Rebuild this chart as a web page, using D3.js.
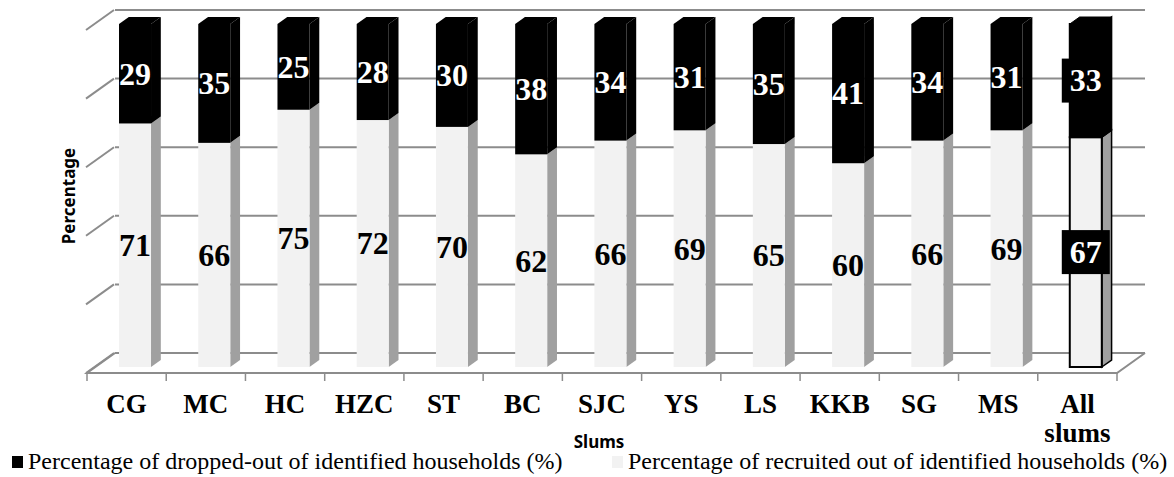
<!DOCTYPE html>
<html>
<head>
<meta charset="utf-8">
<script src="https://cdn.jsdelivr.net/npm/d3@7"></script>
<style>
  html, body { margin: 0; padding: 0; background: #fff; }
  svg { display: block; }
  .serif { font-family: "Liberation Serif", "Times New Roman", "DejaVu Serif", serif; }
  .sans { font-family: "Noto Sans", "DejaVu Sans", sans-serif; }
</style>
</head>
<body>
<svg id="chart" width="1174" height="477"></svg>
<script>
// Slum-wise share of identified households: dropped out vs recruited (%)
const categories = ["CG", "MC", "HC", "HZC", "ST", "BC", "SJC", "YS", "LS", "KKB", "SG", "MS", "All slums"];
const droppedOut = [29, 35, 25, 28, 30, 38, 34, 31, 35, 41, 34, 31, 33];
const recruited  = [71, 66, 75, 72, 70, 62, 66, 69, 65, 60, 66, 69, 67];
const yTicks = [0, 20, 40, 60, 80, 100];
const seriesNames = [
  "Percentage of dropped-out of identified households (%)",
  "Percentage of recruited out of identified households (%)"
];

const svg = d3.select("#chart");

// Pseudo-3D projection: a point at depth f (0 = front of floor, 1 = back wall)
const depth = { dx: 28, dy: -20 };
const proj = (x, y, f) => [x + depth.dx * f, y + depth.dy * f];
const barFront = 0.3, barBack = 0.65;

const x = d3.scaleBand().domain(categories).range([87, 1117]).padding(0);
const y = d3.scaleLinear().domain([0, 100]).range([373, 30]);
const barW = x.bandwidth() * 0.404;

const grid = "#8c8c8c";
const lineFn = d3.line();

// Back wall gridlines with the left-hand depth strokes
const gridG = svg.append("g");
yTicks.forEach(v => {
  gridG.append("path")
    .attr("d", lineFn([proj(x.range()[0], y(v), 1), proj(x.range()[1], y(v), 1)]))
    .attr("stroke", grid).attr("stroke-width", 2).attr("fill", "none");
  gridG.append("path")
    .attr("d", lineFn([proj(x.range()[0] - 1, y(v), 0), proj(x.range()[0] - 1, y(v), 1)]))
    .attr("stroke", grid).attr("stroke-width", 2).attr("fill", "none");
});

// Floor outline
const [fx0, fx1] = x.range();
gridG.append("path")
  .attr("d", lineFn([proj(fx0, y(0), 1), proj(fx0, y(0), 0), proj(fx1, y(0), 0), proj(fx1, y(0), 1)]))
  .attr("stroke", grid).attr("stroke-width", 2).attr("fill", "none");

// Category boundary ticks below the floor edge
d3.range(categories.length + 1).forEach(i => {
  const tx = fx0 + i * x.bandwidth();
  gridG.append("line")
    .attr("x1", tx).attr("x2", tx).attr("y1", y(0)).attr("y2", y(0) + 8)
    .attr("stroke", grid).attr("stroke-width", 1.5);
});

// Category labels
const axis = d3.axisBottom(x).tickSize(0).tickPadding(0);
const axisG = svg.append("g").attr("transform", `translate(0,${y(0)})`).call(axis);
axisG.attr("font-family", null).attr("font-size", null);
axisG.select(".domain").remove();
axisG.selectAll(".tick text")
  .attr("class", "serif")
  .attr("font-weight", "bold")
  .attr("font-size", 27)
  .attr("fill", "#000")
  .attr("dy", null)
  .attr("y", 0)
  .each(function(d) {
    const t = d3.select(this).text("");
    d.split(" ").forEach((w, i) => {
      t.append("tspan").attr("x", 0).attr("y", 40 + i * 29).text(w);
    });
  });

// Stacked boxes
const stacks = categories.map((c, i) => {
  const total = droppedOut[i] + recruited[i];
  const rec = recruited[i] / total * 100;
  return {
    cat: c,
    last: i === categories.length - 1,
    segs: [
      { v0: 0, v1: rec, value: recruited[i], front: "#f2f2f2", side: "#a0a0a0", text: "#000" },
      { v0: rec, v1: 100, value: droppedOut[i], front: "#000", side: "#000", text: "#fff" }
    ]
  };
});

const barsG = svg.append("g");
stacks.forEach(s => {
  const left = x(s.cat) + (x.bandwidth() - barW) / 2;
  const right = left + barW;
  const g = barsG.append("g");
  const stroke = s.last ? "#000" : "none";
  s.segs.forEach((seg, k) => {
    const yt = y(seg.v1), yb = y(seg.v0);
    // side face
    g.append("path")
      .attr("d", lineFn([proj(right, yb, barFront), proj(right, yb, barBack), proj(right, yt, barBack), proj(right, yt, barFront)]) + "Z")
      .attr("fill", seg.side).attr("stroke", stroke).attr("stroke-width", 1.5);
    // front face
    const p0 = proj(left, yt, barFront);
    g.append("rect")
      .attr("x", p0[0]).attr("y", p0[1])
      .attr("width", barW).attr("height", yb - yt)
      .attr("fill", seg.front).attr("stroke", stroke).attr("stroke-width", 2);
    // top face on the upper segment
    if (k === s.segs.length - 1) {
      g.append("path")
        .attr("d", lineFn([proj(left, yt, barFront), proj(right, yt, barFront), proj(right, yt, barBack), proj(left, yt, barBack)]) + "Z")
        .attr("fill", seg.front).attr("stroke", stroke).attr("stroke-width", 1);
    }
  });
  // value labels
  s.segs.forEach(seg => {
    const [cx, cy] = proj(left + barW / 2, y((seg.v0 + seg.v1) / 2), barFront);
    const fs = 32;
    if (s.last) {
      g.append("rect")
        .attr("x", cx - 24).attr("y", cy - 22).attr("width", 48).attr("height", 44)
        .attr("fill", "#000");
    }
    g.append("text")
      .attr("class", "serif")
      .attr("x", cx).attr("y", cy + fs * 0.34)
      .attr("text-anchor", "middle")
      .attr("font-weight", "bold")
      .attr("font-size", fs)
      .attr("fill", s.last ? "#fff" : seg.text)
      .text(seg.value);
  });
});

// Axis titles
svg.append("text")
  .attr("class", "sans")
  .attr("transform", "translate(75,196) rotate(-90)")
  .attr("text-anchor", "middle")
  .attr("font-weight", "bold")
  .attr("font-size", 17)
  .text("Percentage");

svg.append("text")
  .attr("class", "sans")
  .attr("x", 599).attr("y", 448)
  .attr("text-anchor", "middle")
  .attr("font-weight", "bold")
  .attr("font-size", 17)
  .text("Slums");

// Legend
const legend = [
  { name: seriesNames[0], color: "#000", x: 12 },
  { name: seriesNames[1], color: "#f2f2f2", x: 612 }
];
const lg = svg.append("g");
legend.forEach(l => {
  lg.append("rect").attr("x", l.x).attr("y", 456).attr("width", 11).attr("height", 12).attr("fill", l.color);
  lg.append("text")
    .attr("class", "serif")
    .attr("x", l.x + 16).attr("y", 469)
    .attr("font-size", 24)
    .attr("fill", "#000")
    .text(l.name);
});
</script>
</body>
</html>
